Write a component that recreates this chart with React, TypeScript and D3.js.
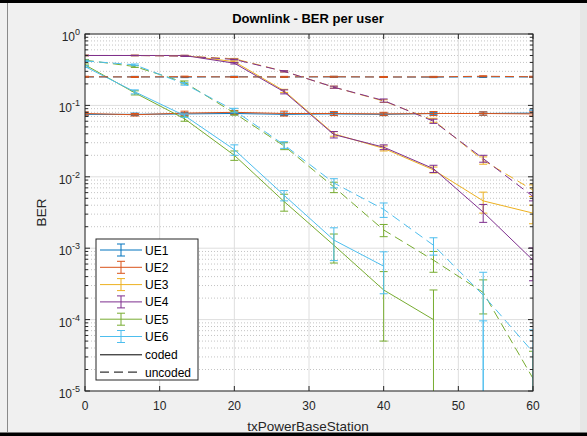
import React from "react";
import { scaleLinear, scaleLog, line } from "d3";

const txPower = [0, 6.67, 13.33, 20, 26.67, 33.33, 40, 46.67, 53.33, 60];
const xTicks = [0, 10, 20, 30, 40, 50, 60];
const yDecades = [-5, -4, -3, -2, -1, 0];

const ueNames = ["UE1", "UE2", "UE3", "UE4", "UE5", "UE6"];
const ueColors = ["#0072BD", "#D95319", "#EDB120", "#7E2F8E", "#77AC30", "#4DBEEE"];

// coded BER + error (per tx power)
const ue1Coded = [0.075, 0.075, 0.076, 0.077, 0.075, 0.076, 0.075, 0.077, 0.077, 0.078];
const ue1CodedErr = [0.004, 0.003, 0.003, 0.003, 0.003, 0.003, 0.003, 0.003, 0.004, 0.008];
const ue2Coded = [0.077, 0.074, 0.078, 0.08, 0.077, 0.077, 0.076, 0.077, 0.077, 0.076];
const ue2CodedErr = [0.004, 0.003, 0.005, 0.005, 0.006, 0.005, 0.004, 0.005, 0.004, 0.005];
const ue3Coded = [0.5, 0.5, 0.5, 0.41, 0.16, 0.04, 0.025, 0.0125, 0.0046, 0.0031];
const ue3CodedErr = [0.003, 0.003, 0.003, 0.01, 0.008, 0.003, 0.002, 0.0012, 0.0015, 0.0009];
const ue4Coded = [0.5, 0.5, 0.5, 0.39, 0.155, 0.039, 0.026, 0.013, 0.0032, 0.00068];
const ue4CodedErr = [0.003, 0.003, 0.003, 0.01, 0.01, 0.004, 0.002, 0.0015, 0.0009, 0.00033];
const ue5Coded = [0.37, 0.15, 0.065, 0.02, 0.0045, 0.0011, 0.00026, 0.0001, 0, 0];
const ue5CodedErr = [0.01, 0.01, 0.005, 0.003, 0.0012, 0.00048, 0.00021, 0.00016, 0, 0];
const ue6Coded = [0.35, 0.155, 0.072, 0.024, 0.0055, 0.0013, 0.00056, 0, 0, 0];
const ue6CodedErr = [0.01, 0.01, 0.004, 0.004, 0.0009, 0.00063, 0.00033, 0, 0.000096, 0];

// uncoded BER + error
const ue1Uncoded = [0.25, 0.251, 0.249, 0.252, 0.25, 0.251, 0.25, 0.249, 0.251, 0.25];
const ue1UncodedErr = [0.004, 0.004, 0.004, 0.004, 0.004, 0.004, 0.004, 0.004, 0.004, 0.004];
const ue2Uncoded = [0.252, 0.25, 0.253, 0.25, 0.251, 0.252, 0.25, 0.251, 0.256, 0.252];
const ue2UncodedErr = [0.004, 0.004, 0.004, 0.004, 0.004, 0.004, 0.004, 0.004, 0.004, 0.004];
const ue3Uncoded = [0.5, 0.5, 0.49, 0.45, 0.3, 0.18, 0.115, 0.062, 0.017, 0.0065];
const ue3UncodedErr = [0.003, 0.003, 0.004, 0.005, 0.006, 0.006, 0.005, 0.004, 0.002, 0.0012];
const ue4Uncoded = [0.5, 0.5, 0.49, 0.44, 0.3, 0.18, 0.117, 0.06, 0.018, 0.0053];
const ue4UncodedErr = [0.003, 0.003, 0.004, 0.005, 0.006, 0.006, 0.006, 0.004, 0.002, 0.0007];
const ue5Uncoded = [0.43, 0.35, 0.21, 0.078, 0.027, 0.0072, 0.0018, 0.00068, 0.00024, 0.000015];
const ue5UncodedErr = [0.01, 0.01, 0.01, 0.005, 0.003, 0.0012, 0.00035, 0.00022, 0.00012, 0.000021];
const ue6Uncoded = [0.42, 0.37, 0.2, 0.085, 0.028, 0.0082, 0.0035, 0.0011, 0.00022, 0.000035];
const ue6UncodedErr = [0.01, 0.01, 0.008, 0.006, 0.003, 0.0012, 0.0008, 0.0003, 0.00024, 0.000037];

const coded = [ue1Coded, ue2Coded, ue3Coded, ue4Coded, ue5Coded, ue6Coded];
const codedErr = [ue1CodedErr, ue2CodedErr, ue3CodedErr, ue4CodedErr, ue5CodedErr, ue6CodedErr];
const uncoded = [ue1Uncoded, ue2Uncoded, ue3Uncoded, ue4Uncoded, ue5Uncoded, ue6Uncoded];
const uncodedErr = [ue1UncodedErr, ue2UncodedErr, ue3UncodedErr, ue4UncodedErr, ue5UncodedErr, ue6UncodedErr];

const font = "'Liberation Sans', Arial, Helvetica, sans-serif";
const axisColor = "#262626";

function App() {
  const width = 587;
  const height = 436;
  const margin = { left: 85, right: 54, top: 34, bottom: 45 };
  const plotRight = width - margin.right;
  const plotBottom = height - margin.bottom;

  const xScale = scaleLinear().domain([0, 60]).range([margin.left, plotRight]);
  const yScale = scaleLog().domain([1e-5, 1]).range([plotBottom, margin.top]);

  const minorTicks: number[] = [];
  yDecades.slice(0, -1).forEach((d) => {
    for (let k = 2; k <= 9; k++) minorTicks.push(k * Math.pow(10, d));
  });

  const lineGen = line<number>()
    .defined((v) => v > 0)
    .x((v, i) => xScale(txPower[i]))
    .y((v) => yScale(v));

  const capW = 4;

  const errorBars = (vals: number[], errs: number[], color: string, key: string) =>
    vals.map((v, i) => {
      const e = errs[i];
      if (e <= 0) return null;
      const x = xScale(txPower[i]);
      const yTop = yScale(v + e);
      const lowOk = v - e > 0;
      const yLow = lowOk ? yScale(v - e) : plotBottom + 2;
      return (
        <g key={`${key}-${i}`} stroke={color} strokeWidth={1}>
          <line x1={x} x2={x} y1={yTop} y2={yLow} />
          <line x1={x - capW} x2={x + capW} y1={yTop} y2={yTop} />
          {lowOk && <line x1={x - capW} x2={x + capW} y1={yLow} y2={yLow} />}
        </g>
      );
    });

  const legendX = 96;
  const legendY = 239;
  const rowH = 17.3;

  return (
    <svg
      width={width}
      height={height}
      style={{ position: "absolute", left: 0, top: 0, fontFamily: font }}
    >
      <rect width={width} height={height} fill="#f0f0f0" />
      <rect x={0} y={0} width={width} height={3} fill="#000" />
      <rect x={0} y={432.5} width={width} height={4} fill="#000" />
      <line x1={7.5} x2={7.5} y1={3} y2={432} stroke="#8a8a8a" />
      <rect x={580} y={3} width={7} height={429} fill="#e6e6e6" />

      <defs>
        <clipPath id="plotClip">
          <rect x={margin.left} y={margin.top} width={plotRight - margin.left} height={plotBottom - margin.top} />
        </clipPath>
      </defs>

      {/* plot area */}
      <rect x={margin.left} y={margin.top} width={plotRight - margin.left} height={plotBottom - margin.top} fill="#fff" />

      {/* minor grid */}
      {minorTicks.map((t, i) => (
        <line key={`mg${i}`} x1={margin.left} x2={plotRight} y1={yScale(t)} y2={yScale(t)}
          stroke="#c4c4c4" strokeDasharray="1,2" strokeWidth={1} />
      ))}
      {/* major grid */}
      {yDecades.map((d) => (
        <line key={`gy${d}`} x1={margin.left} x2={plotRight} y1={yScale(Math.pow(10, d))} y2={yScale(Math.pow(10, d))}
          stroke="#dedede" strokeWidth={1} />
      ))}
      {xTicks.map((t) => (
        <line key={`gx${t}`} x1={xScale(t)} x2={xScale(t)} y1={margin.top} y2={plotBottom}
          stroke="#dedede" strokeWidth={1} />
      ))}

      {/* data */}
      <g clipPath="url(#plotClip)" fill="none">
        {coded.map((vals, s) => (
          <g key={`c${s}`}>
            <path d={lineGen(vals) || ""} stroke={ueColors[s]} strokeWidth={1} fill="none" />
            {errorBars(vals, codedErr[s], ueColors[s], `ce${s}`)}
          </g>
        ))}
        {uncoded.map((vals, s) => (
          <g key={`u${s}`}>
            <path d={lineGen(vals) || ""} stroke={ueColors[s]} strokeWidth={1} fill="none" strokeDasharray="9,5" />
            {errorBars(vals, uncodedErr[s], ueColors[s], `ue${s}`)}
          </g>
        ))}
      </g>

      {/* axes box and ticks */}
      <rect x={margin.left} y={margin.top} width={plotRight - margin.left} height={plotBottom - margin.top}
        fill="none" stroke={axisColor} strokeWidth={1} />
      {xTicks.map((t) => (
        <g key={`xt${t}`} stroke={axisColor}>
          <line x1={xScale(t)} x2={xScale(t)} y1={plotBottom} y2={plotBottom - 5} />
          <line x1={xScale(t)} x2={xScale(t)} y1={margin.top} y2={margin.top + 5} />
        </g>
      ))}
      {yDecades.map((d) => (
        <g key={`yt${d}`} stroke={axisColor}>
          <line x1={margin.left} x2={margin.left + 5} y1={yScale(Math.pow(10, d))} y2={yScale(Math.pow(10, d))} />
          <line x1={plotRight} x2={plotRight - 5} y1={yScale(Math.pow(10, d))} y2={yScale(Math.pow(10, d))} />
        </g>
      ))}
      {minorTicks.map((t, i) => (
        <g key={`ymt${i}`} stroke={axisColor}>
          <line x1={margin.left} x2={margin.left + 3} y1={yScale(t)} y2={yScale(t)} />
          <line x1={plotRight} x2={plotRight - 3} y1={yScale(t)} y2={yScale(t)} />
        </g>
      ))}

      {/* tick labels */}
      {xTicks.map((t) => (
        <text key={`xl${t}`} x={xScale(t)} y={plotBottom + 18.5} textAnchor="middle" fontSize={12} fill={axisColor}>
          {t}
        </text>
      ))}
      {yDecades.map((d) => (
        <text key={`yl${d}`} x={margin.left - 5} y={yScale(Math.pow(10, d)) + 7} textAnchor="end" fontSize={12} fill={axisColor}>
          10
          <tspan dy={-6} fontSize={9}>{d}</tspan>
        </text>
      ))}

      {/* labels */}
      <text x={308} y={23} textAnchor="middle" fontSize={13} fontWeight="bold" fill="#000">
        Downlink - BER per user
      </text>
      <text x={308} y={431} textAnchor="middle" fontSize={13.5} fill={axisColor}>
        txPowerBaseStation
      </text>
      <text transform={`translate(46,${(margin.top + plotBottom) / 2}) rotate(-90)`} textAnchor="middle" fontSize={13.5} fill={axisColor}>
        BER
      </text>

      {/* legend */}
      <g transform={`translate(${legendX},${legendY})`}>
        <rect x={0} y={0} width={102} height={141} fill="#fff" stroke={axisColor} strokeWidth={1} />
        {ueNames.map((name, i) => {
          const y = 11 + i * rowH;
          return (
            <g key={name} stroke={ueColors[i]} strokeWidth={1}>
              <line x1={4} x2={46} y1={y} y2={y} />
              <line x1={25} x2={25} y1={y - 6} y2={y + 6} />
              <line x1={25 - capW} x2={25 + capW} y1={y - 6} y2={y - 6} />
              <line x1={25 - capW} x2={25 + capW} y1={y + 6} y2={y + 6} />
              <text x={49} y={y + 4.5} stroke="none" fill="#000" fontSize={12}>{name}</text>
            </g>
          );
        })}
        <line x1={4} x2={46} y1={11 + 6 * rowH + 1} y2={11 + 6 * rowH + 1} stroke="#000" />
        <text x={49} y={11 + 6 * rowH + 5.5} fontSize={12} fill="#000">coded</text>
        <line x1={4} x2={46} y1={11 + 7 * rowH + 1} y2={11 + 7 * rowH + 1} stroke="#000" strokeDasharray="9,5" />
        <text x={49} y={11 + 7 * rowH + 5.5} fontSize={12} fill="#000">uncoded</text>
      </g>
    </svg>
  );
}

export default App;
